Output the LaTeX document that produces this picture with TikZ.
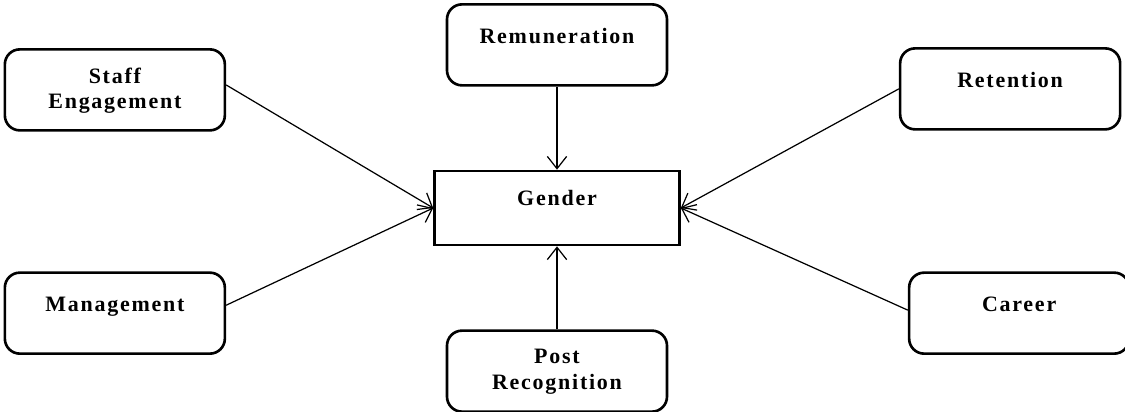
\documentclass[tikz,border=0pt]{standalone}
\usepackage{fontspec}
\setmainfont{Liberation Serif}[LetterSpace=8]
\usepackage{tikz}
\usetikzlibrary{arrows.meta, positioning}

\begin{document}
\begin{tikzpicture}[
    factor/.style={rectangle, draw, line width=1.5pt, rounded corners=0.3cm, fill=white, minimum width=4.4cm, minimum height=1.62cm, align=center, font=\fontsize{12.5}{14.5}\selectfont\bfseries, text depth=10pt},
    twoline/.style={text depth=2pt},
    centre/.style={rectangle, draw, line width=1.5pt, minimum width=4.9cm, minimum height=1.48cm, font=\fontsize{12.5}{14.5}\selectfont\bfseries, text depth=12pt},
    arrow/.style={-{Straight Barb[length=7pt, width=11pt]}, line width=0.7pt}
]
\useasboundingbox (-11.14,-4.06) rectangle (11.36,4.16);

% Central node
\node[centre] (gender) {Gender};

% Top and bottom
\node[factor, above=1.66cm of gender] (remun) {Remuneration};
\node[factor, twoline, below=1.66cm of gender] (post) {Post\\Recognition};

% Left side
\node[factor, twoline, above left=0.76cm and 4.14cm of gender] (staff) {Staff\\Engagement};
\node[factor, below left=0.5cm and 4.14cm of gender] (mgmt) {Management};

% Right side
\node[factor, above right=0.78cm and 4.36cm of gender] (retent) {Retention};
\node[factor, below right=0.5cm and 4.54cm of gender] (career) {Career};

% Arrows
\draw[arrow] (remun) -- (gender);
\draw[arrow] (post) -- (gender);
\draw[arrow] ([yshift=2.8pt]staff.east) -- (gender.west);
\draw[arrow] ([yshift=4.5pt]mgmt.east) -- (gender.west);
\draw[arrow] (retent.west) -- (gender.east);
\draw[arrow] ([yshift=1.7pt]career.west) -- (gender.east);

\end{tikzpicture}
\end{document}
